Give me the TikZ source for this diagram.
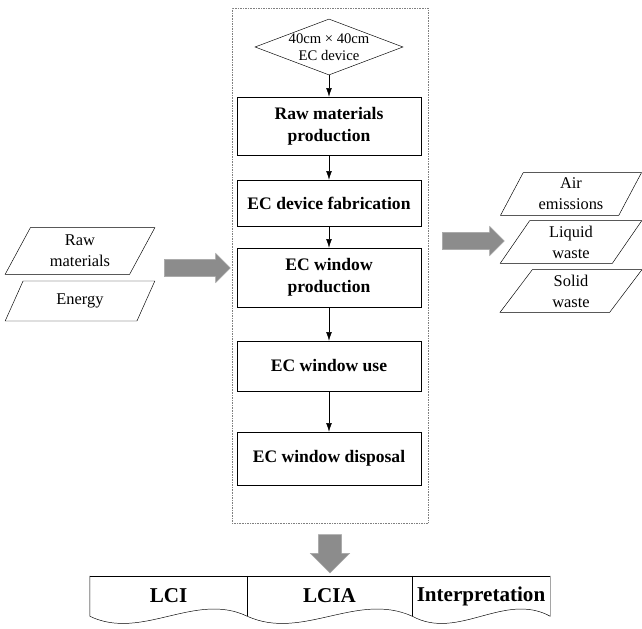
\documentclass[tikz,border=0pt]{standalone}
\usepackage{fontspec}
\setmainfont{Liberation Serif}
\usetikzlibrary{shapes.geometric,shapes.arrows,arrows.meta}

\tikzset{
  procbox/.style={draw, minimum width=55.2mm, align=center, inner sep=1pt,
    font=\fontsize{15}{19}\selectfont\bfseries},
  datapara/.style={draw, trapezium, trapezium left angle=66, trapezium right angle=114,
    trapezium stretches=true, align=center, inner xsep=0pt, inner ysep=1pt,
    font=\fontsize{14}{18}\selectfont},
  bigarrow/.style={single arrow, fill=black!45, draw=black!35,
    single arrow head indent=0pt},
  phasebox/.style={minimum height=12mm, inner xsep=0.5pt,
    font=\fontsize{18}{20}\selectfont\bfseries},
  flow/.style={-{Latex[length=2.6mm,width=1.7mm]}}
}

\begin{document}
\begin{tikzpicture}[x=0.3mm, y=-0.3mm]
  \useasboundingbox (0,0) rectangle (642,629);

  % system boundary
  \node[draw, gray, densely dotted, minimum width=58.8mm, minimum height=154.5mm] (system) at (330,265.5) {};

  \node[draw, diamond, minimum width=44.4mm, minimum height=16.8mm, inner sep=0pt] (dev) at (329,47) {};
  \node[font=\fontsize{12.5}{14.5}\selectfont, align=center] (devtext) at (dev) {40cm × 40cm\\EC device};

  \node[procbox, minimum height=17.4mm] (rawprod) at (329,126) {Raw materials\\production};
  \node[procbox, minimum height=13.8mm] (fab) at (329,203) {EC device fabrication};
  \node[procbox, minimum height=17.7mm] (winprod) at (329,277.5) {EC window\\production};
  \node[procbox, minimum height=15mm] (winuse) at (329,366) {EC window use};
  \node[procbox, minimum height=15.9mm] (disposal) at (329,458.5) {EC window disposal};

  \draw[flow] (dev.south) -- (rawprod.north);
  \draw[flow] (rawprod) -- (fab);
  \draw[flow] (fab) -- (winprod);
  \draw[flow] (winprod) -- (winuse);
  \draw[flow] (winuse) -- (disposal);

  % inputs
  \node[datapara, minimum width=45mm, minimum height=14mm] (rawin) at (80,251) {Raw\\materials};
  \node[datapara, minimum width=45mm, minimum height=12mm] (energy) at (80,301) {Energy};
  \node[bigarrow, minimum height=19.8mm, inner xsep=0pt, inner ysep=2.5mm, single arrow head extend=1.8mm] (inflow) at (193,268) {};

  % outputs
  \node[bigarrow, minimum height=18.6mm, inner xsep=0pt, inner ysep=2.5mm, single arrow head extend=1.8mm] (outflow) at (469,241) {};
  \node[datapara, minimum width=42.6mm, minimum height=12.8mm] (air) at (571,194) {Air\\emissions};
  \node[datapara, minimum width=42.6mm, minimum height=12.8mm] (liquid) at (571,242) {Liquid\\waste};
  \node[datapara, minimum width=42.6mm, minimum height=12.8mm] (solid) at (571,291) {Solid\\waste};

  % LCA phases
  \node[bigarrow, shape border rotate=270, minimum height=11.5mm, inner xsep=3.4mm, inner ysep=0pt, single arrow head extend=2.4mm] (toassess) at (330,548) {};
  \node[phasebox, minimum width=47.1mm] (lci) at (168.5,596) {LCI};
  \node[phasebox, minimum width=49.5mm] (lcia) at (329.5,596) {LCIA};
  \node[phasebox, minimum width=41.4mm] (interp) at (481,596) {Interpretation};
  \draw (lci.north west) -- (interp.north east);
  \draw (lci.north west) -- (lci.south west)
    .. controls +(52,25) and +(-52,-25) .. (lci.south east)
    .. controls +(55,25) and +(-55,-25) .. (lcia.south east)
    .. controls +(46,25) and +(-46,-25) .. (interp.south east) -- (interp.north east);
  \draw (lcia.north west) -- (lcia.south west);
  \draw (lcia.north east) -- (lcia.south east);
\end{tikzpicture}
\end{document}
